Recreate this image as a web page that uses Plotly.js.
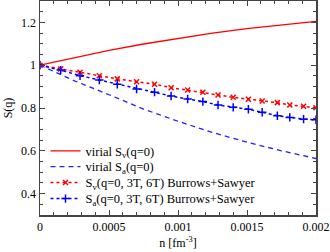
<!DOCTYPE html>
<html>
<head>
<meta charset="utf-8">
<script src="https://cdn.plot.ly/plotly-3.0.1.min.js"></script>
<style>html,body{margin:0;padding:0;background:#fff}#chart{width:330px;height:252px}</style>
</head>
<body>
<div id="chart"></div>
<script>
// virial curves
const nVirial = [0, 0.00025, 0.0005, 0.00075, 0.001, 0.00125, 0.0015, 0.00175, 0.002];
const svVirial = [1.0, 1.036, 1.069, 1.099, 1.126, 1.150, 1.171, 1.189, 1.205];
const saVirial = [1.0, 0.927, 0.862, 0.795, 0.738, 0.686, 0.640, 0.600, 0.564];
// Burrows+Sawyer points
const nBS = [0, 0.00015, 0.00029, 0.00043, 0.00056, 0.0007, 0.00083, 0.00095, 0.00107, 0.00118, 0.00129, 0.0014, 0.00151, 0.00161, 0.00172, 0.00181, 0.00191, 0.002];
const svBS = [1.0, 0.982, 0.967, 0.951, 0.936, 0.923, 0.911, 0.895, 0.884, 0.874, 0.861, 0.850, 0.841, 0.833, 0.825, 0.814, 0.808, 0.801];
const saBS = [1.0, 0.977, 0.951, 0.931, 0.911, 0.889, 0.874, 0.856, 0.842, 0.830, 0.814, 0.803, 0.794, 0.780, 0.764, 0.756, 0.748, 0.745];
const names = ['virial S<sub>v</sub>(q=0)', 'virial S<sub>a</sub>(q=0)', 'S<sub>v</sub>(q=0, 3T, 6T) Burrows+Sawyer', 'S<sub>a</sub>(q=0, 3T, 6T) Burrows+Sawyer'];
const xTickVals = [0, 0.0005, 0.001, 0.0015, 0.002];
const xTickText = ['0', '0.0005', '0.001', '0.0015', '0.002'];
const yTickVals = [0.4, 0.6, 0.8, 1.0, 1.2];
const yTickText = ['0.4', '0.6', '0.8', '1', '1.2'];

const fam = '"Liberation Serif", "DejaVu Serif", serif';
const font = {family: fam, size: 12, color: '#000'};
const legFont = {family: fam, size: 12.5, color: '#000'};
const traces = [
  {x: nVirial, y: svVirial, name: names[0], mode: 'lines', line: {color: '#ff0000', width: 1.3}, legend: 'legend'},
  {x: nVirial, y: saVirial, name: names[1], mode: 'lines', line: {color: '#2020ff', width: 1.3, dash: '5px,4px'}, legend: 'legend2'},
  {x: nBS, y: svBS, name: names[2], mode: 'lines+markers', line: {color: '#ff0000', width: 1.5, dash: 'dot'},
   marker: {symbol: 'x-thin', size: 5, color: '#ff0000', line: {color: '#ff0000', width: 1.5}}, legend: 'legend3'},
  {x: nBS, y: saBS, name: names[3], mode: 'lines+markers', line: {color: '#0000ff', width: 1.5, dash: 'dot'},
   marker: {symbol: 'cross-thin', size: 6, color: '#0000ff', line: {color: '#0000ff', width: 1.5}}, legend: 'legend4'}
];
const axisCommon = {showline: true, mirror: 'allticks', linecolor: '#444', linewidth: 1.5, ticks: 'inside',
  ticklen: 5, tickwidth: 1, tickcolor: '#444', showgrid: false, zeroline: false, tickfont: font};
function leg(yc) {
  return {x: 0.02, y: yc, xanchor: 'left', yanchor: 'middle', bgcolor: 'rgba(0,0,0,0)', font: legFont, itemwidth: 30};
}
const layout = {
  width: 330, height: 252,
  margin: {l: 40, r: 14, t: 1, b: 37},
  paper_bgcolor: '#fff', plot_bgcolor: '#fff',
  font: font,
  showlegend: true,
  legend: leg(0.298), legend2: leg(0.2246), legend3: leg(0.1497), legend4: leg(0.0749),
  xaxis: Object.assign({}, axisCommon, {range: [0, 0.002], tickvals: xTickVals, ticktext: xTickText,
    minor: {dtick: 0.0001, ticks: 'inside', ticklen: 3, tickcolor: '#444', tickwidth: 1},
    title: {text: 'n [fm<sup>-3</sup>]', font: font, standoff: 5}}),
  yaxis: Object.assign({}, axisCommon, {range: [0.3, 1.3], tickvals: yTickVals, ticktext: yTickText,
    minor: {dtick: 0.05, ticks: 'inside', ticklen: 3, tickcolor: '#444', tickwidth: 1},
    title: {text: 'S(q)', font: font, standoff: 6}})
};
Plotly.newPlot('chart', traces, layout, {displayModeBar: false, staticPlot: true});
</script>
</body>
</html>
